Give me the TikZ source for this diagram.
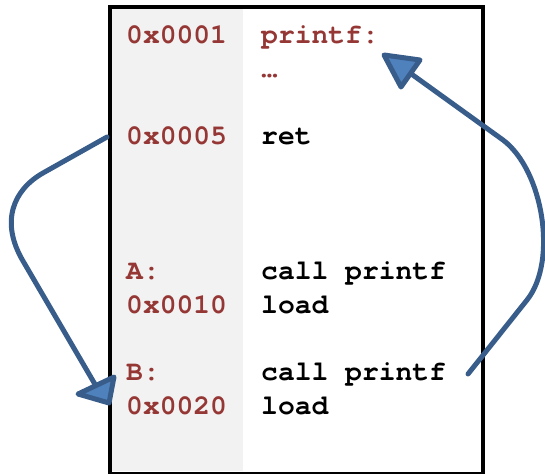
\documentclass[tikz,border=0pt]{standalone}
\usepackage{fontspec}
\setmonofont{TeX Gyre Cursor}
\definecolor{addr}{HTML}{953735}
\definecolor{flowline}{HTML}{385D8A}
\definecolor{flowfill}{HTML}{4F81BD}
\definecolor{colgray}{HTML}{F2F2F2}
\tikzset{
  code/.style={anchor=base west,inner sep=0pt,font=\fontsize{28bp}{33bp}\selectfont\ttfamily\bfseries},
  addrtxt/.style={code,text=addr},
  instr/.style={code,text=black},
  flow/.style={draw=flowline,line width=5bp,line cap=round,line join=round},
  head/.style={draw=flowline,fill=flowfill,line width=5bp,line join=round}
}
\begin{document}
\begin{tikzpicture}[x=1bp,y=-1bp]
\useasboundingbox (0,0) rectangle (545,474);

% address column background and memory frame
\fill[colgray] (108,6) rectangle (243,471);
\node[draw,line width=4bp,minimum width=373bp,minimum height=466bp,
      inner sep=0pt,anchor=north west] (mem) at (108,5.5) {};

% addresses
\node[addrtxt] (a1)  at (126,44)  {0x0001};
\node[addrtxt] (a5)  at (126,145) {0x0005};
\node[addrtxt] (lA)  at (126,279) {A:};
\node[addrtxt] (a10) at (126,313) {0x0010};
\node[addrtxt] (lB)  at (126,380) {B:};
\node[addrtxt] (a20) at (126,414) {0x0020};

% instructions
\node[addrtxt] (pf)   at (261,44)  {printf:};
\node[addrtxt] (dots) at (261,78)  {…};
\node[instr]   (ret)  at (261,145) {ret};
\node[instr]   (cA)   at (261,279) {call printf};
\node[instr]   (ldA)  at (261,313) {load};
\node[instr]   (cB)   at (261,380) {call printf};
\node[instr]   (ldB)  at (261,414) {load};

% control-flow arrows
\coordinate (retOut) at (107,137);
\coordinate (retEnd) at (96,386);
\coordinate (callOut) at (468,374);
\coordinate (pfEnd) at (410,73);

\draw[flow] (retOut) -- (43,173)
  .. controls (13,190) and (0,222) .. (23,261) -- (retEnd);
\draw[head] (109,403) -- (78,394) -- (114,377) -- cycle;

\draw[flow] (callOut) -- (527,300)
  .. controls (558,261) and (543,170) .. (503,140) -- (pfEnd);
\draw[head] (384,55) -- (420,60) -- (401,87) -- cycle;
\end{tikzpicture}
\end{document}
